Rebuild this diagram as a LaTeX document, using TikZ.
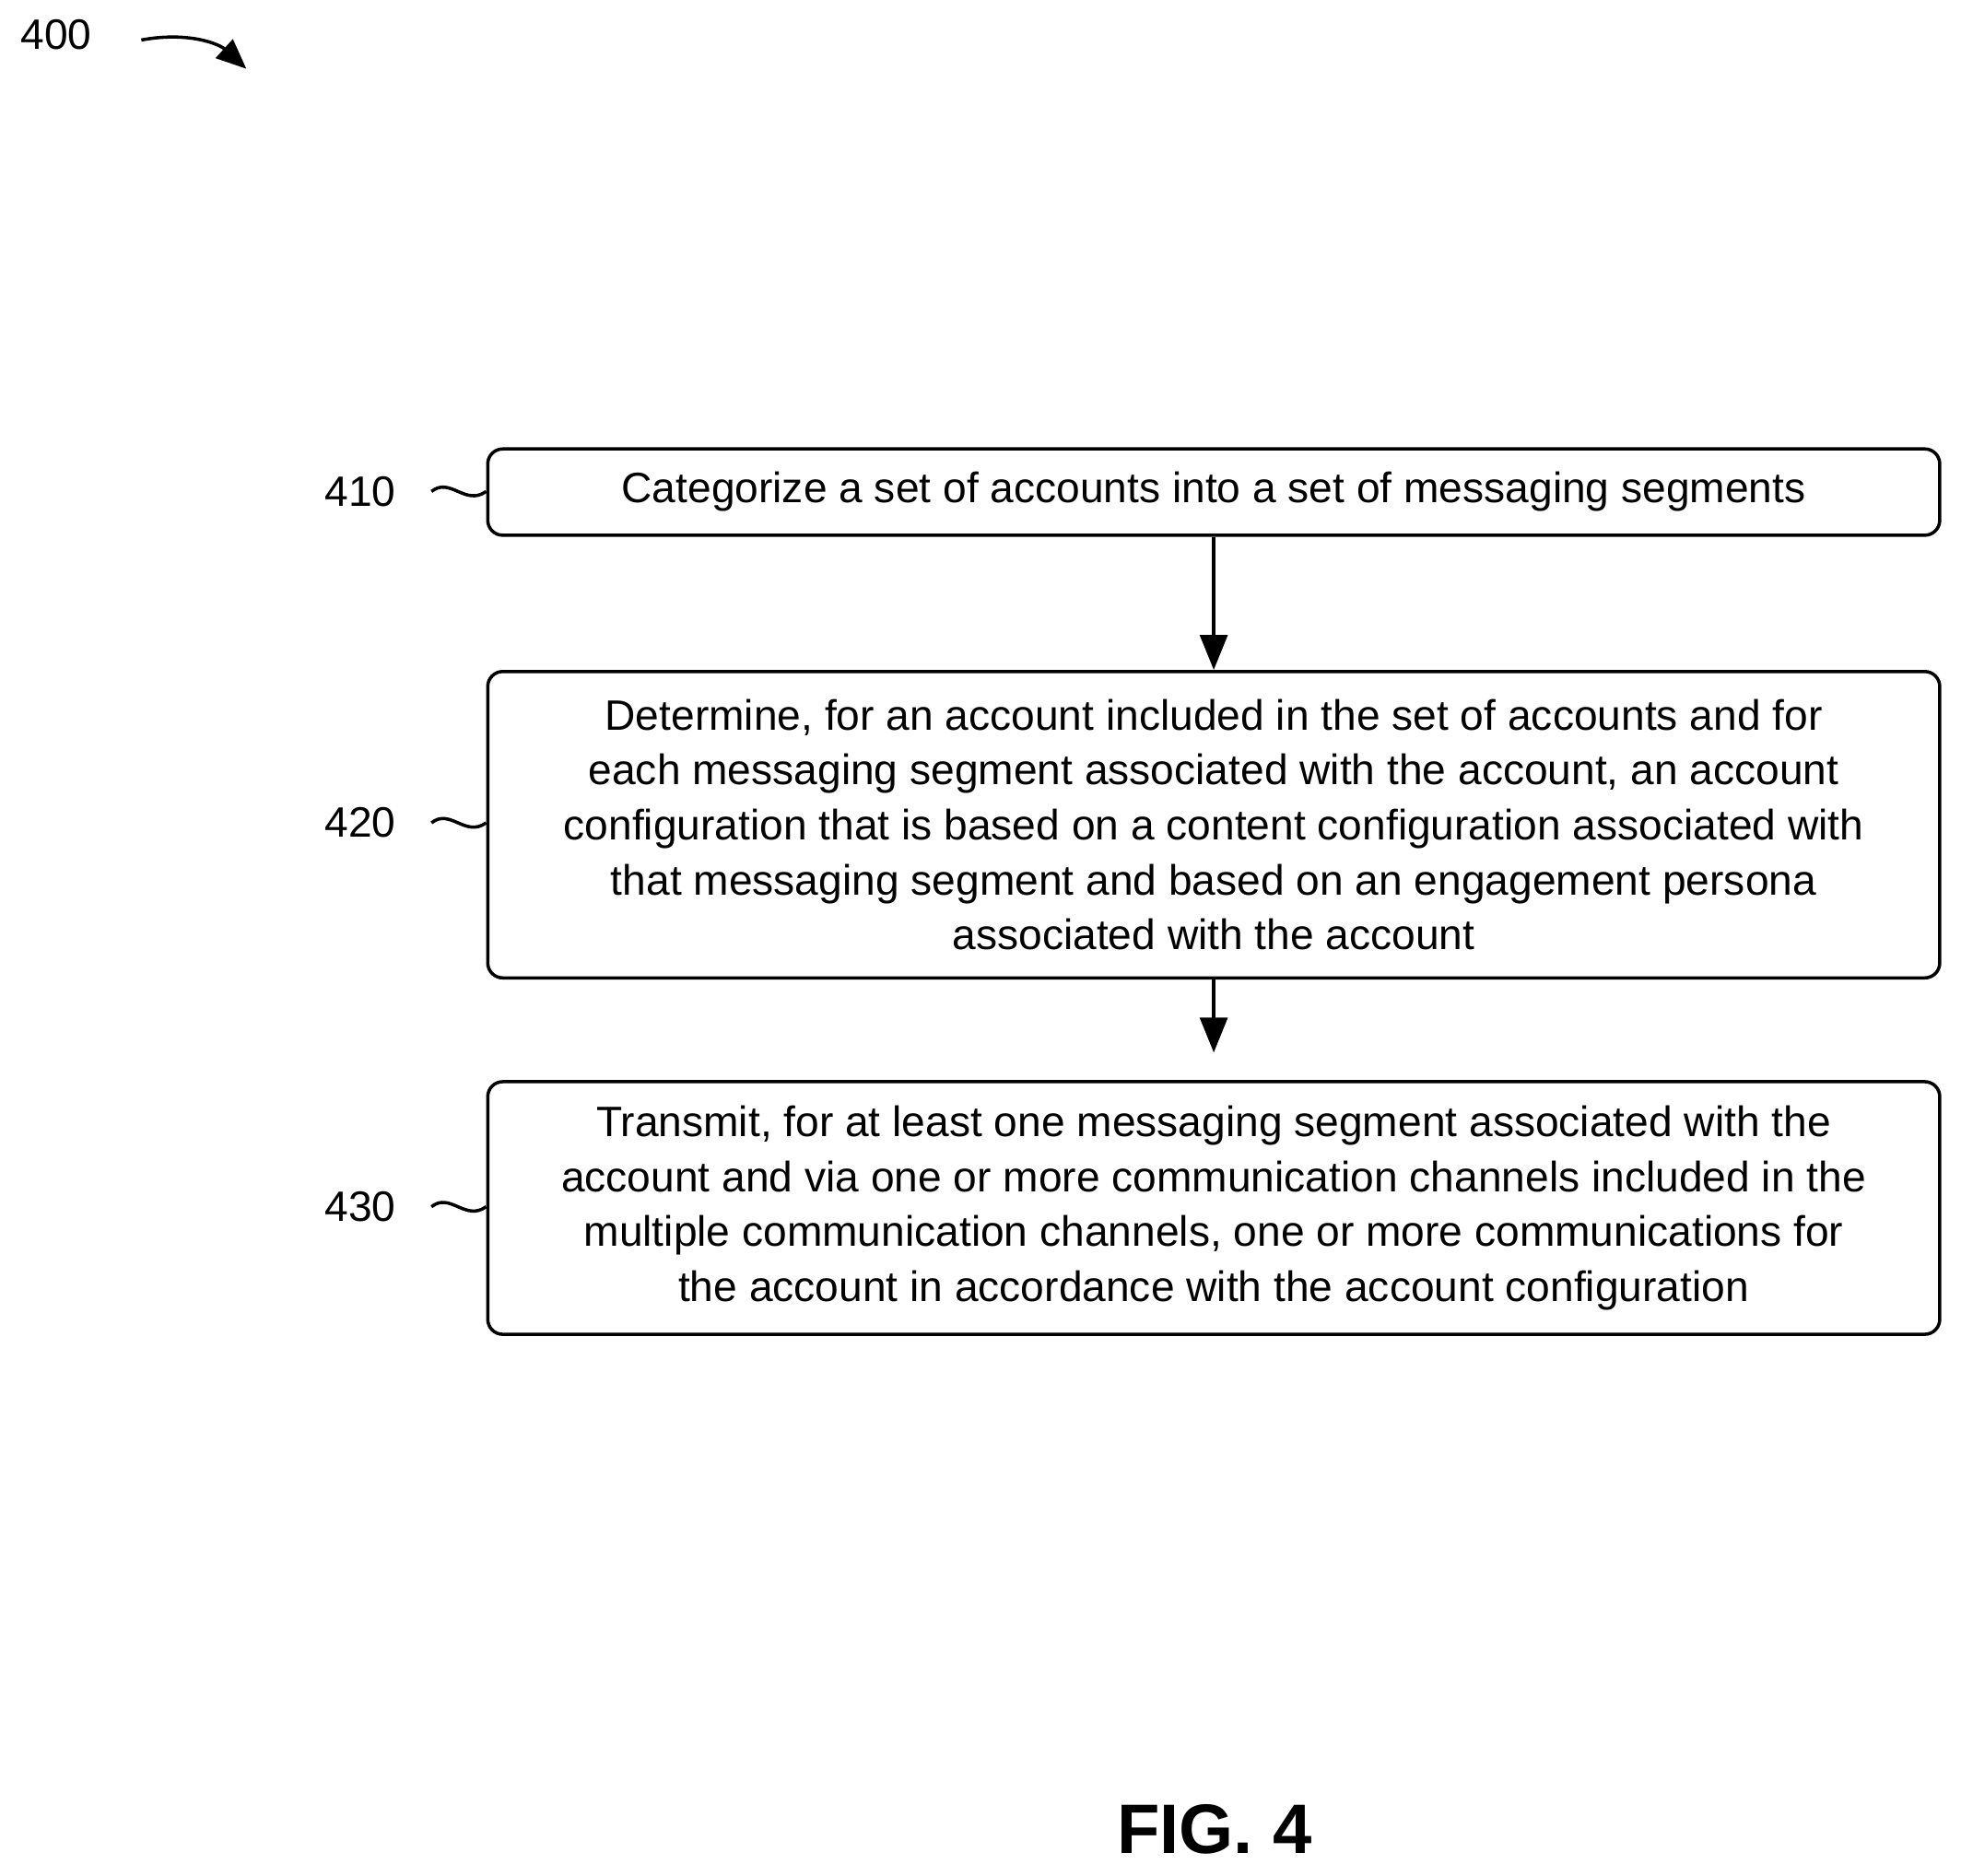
\documentclass[tikz,border=0pt]{standalone}
\usepackage{fontspec}
\setmainfont{Liberation Sans}
\usetikzlibrary{arrows.meta}
\begin{document}
\begin{tikzpicture}[x=0.5pt,y=-0.5pt,
  box/.style={draw,line width=1.3pt,rounded corners=6pt,align=center,inner sep=0pt,font=\fontsize{17}{22}\selectfont},
  lbl/.style={font=\fontsize{17}{22}\selectfont},
  arr/.style={line width=1.3pt,-{Triangle[length=14pt,width=11pt]}},
  tl/.style={line width=1.3pt}]
\useasboundingbox (0,0) rectangle (1568,1500);
\node[lbl] (n400) at (45,28) {400};
\coordinate (a0) at (113,32);
\coordinate (a1) at (197,55);
\draw[line width=1.3pt,-{Triangle[length=12pt,width=10pt]}] (a0) .. controls (150,25) and (175,35) .. (a1);
\node[box,minimum width=580.5pt,minimum height=34.5pt] (b1) at (970.5,393.5) {Categorize a set of accounts into a set of messaging segments};
\node[box,minimum width=580.5pt,minimum height=122.5pt] (b2) at (970.5,659.5) {Determine, for an account included in the set of accounts and for\\each messaging segment associated with the account, an account\\configuration that is based on a content configuration associated with\\that messaging segment and based on an engagement persona\\associated with the account};
\node[box,minimum width=580.5pt,minimum height=101pt] (b3) at (970.5,966) {Transmit, for at least one messaging segment associated with the\\account and via one or more communication channels included in the\\multiple communication channels, one or more communications for\\the account in accordance with the account configuration};
\draw[arr] (b1.south) -- (b2.north);
\draw[arr] (b2.south) -- ([yshift=11pt]b3.north);
\node[lbl] (l1) at (288,393) {410};
\node[lbl] (l2) at (288,658) {420};
\node[lbl] (l3) at (288,965) {430};
\foreach \y/\b in {393/b1,658/b2,965/b3}{
  \draw[tl] (345,\y) .. controls (360,\y-12) and (372,\y+12) .. (\b.west |- 0,\y);
}
\node[font=\bfseries\fontsize{28}{32}\selectfont] (fig) at (971,1463) {FIG. 4};
\end{tikzpicture}
\end{document}
